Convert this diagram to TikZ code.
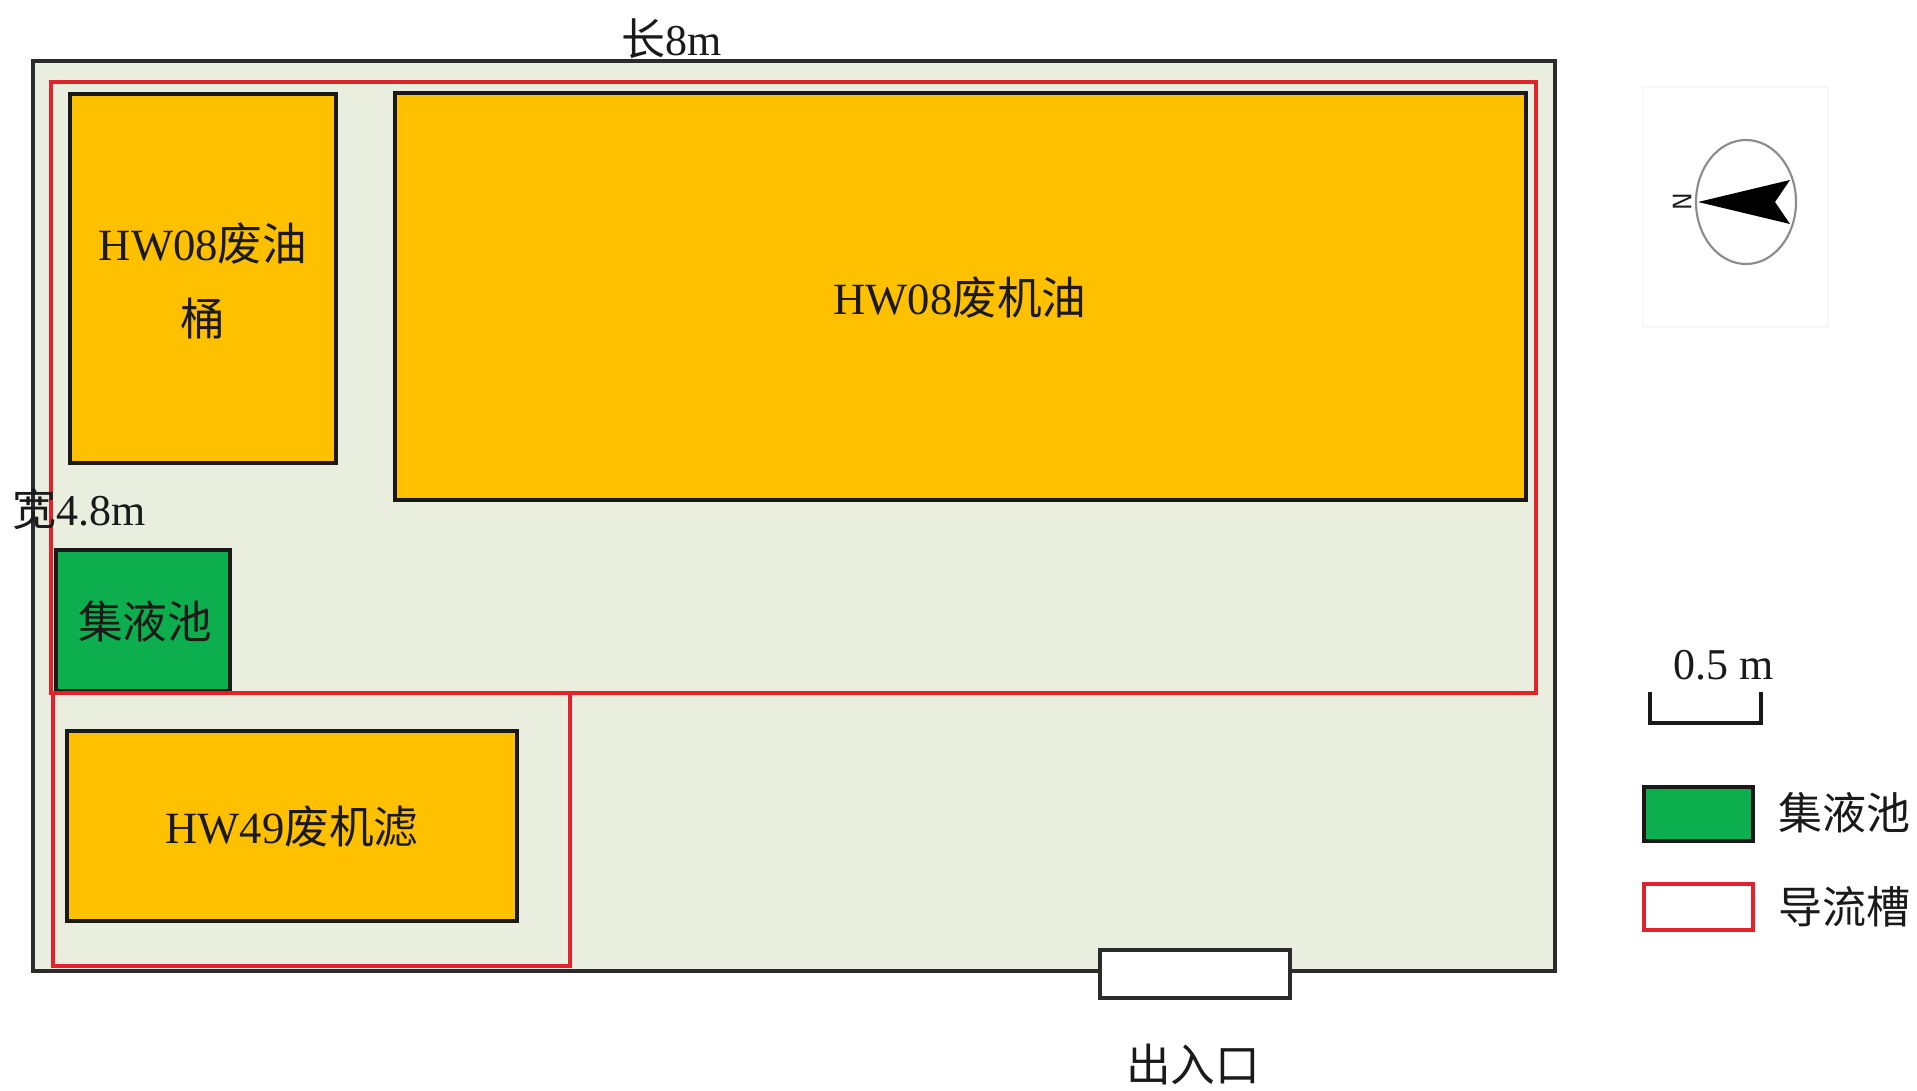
\documentclass[tikz,border=0pt]{standalone}
\usepackage{fontspec}
\setmainfont{Liberation Serif}
\newfontfamily\cjk{Noto Sans CJK SC}
\definecolor{bgfill}{HTML}{E9EEDE}
\definecolor{orangefill}{HTML}{FFC000}
\definecolor{greenfill}{HTML}{0CAE4E}
\definecolor{redline}{HTML}{E4222C}
\definecolor{darkline}{HTML}{2B2B2B}
\definecolor{txt}{HTML}{1A1A1A}
\tikzset{
  sitebox/.style={draw=darkline,line width=2.6pt,fill=bgfill},
  storebox/.style={draw=black!90,line width=2.4pt,fill=orangefill},
  poolbox/.style={draw=black!90,line width=2.6pt,fill=greenfill},
  drainbox/.style={draw=redline,line width=2.5pt},
  doorbox/.style={draw=darkline,line width=2.3pt,fill=white},
  lab/.style={font=\fontsize{33.5}{41}\selectfont,text=txt,inner sep=0pt,align=center},
  smalllab/.style={font=\fontsize{33}{36}\selectfont,text=txt,inner sep=0pt},
}
\begin{document}
\begin{tikzpicture}[x=0.75pt,y=-0.75pt]
\useasboundingbox (0,0) rectangle (1917,1091);
\fill[white] (0,0) rectangle (1917,1091);
% site
\draw[sitebox] (33,61) rectangle (1555,971);
\draw[drainbox] (51,82) rectangle (1536,693);
% storage
\draw[storebox] (70,94) rectangle (336,463);
\draw[storebox] (395,93) rectangle (1526,500);
\draw[storebox] (67,731) rectangle (517,921);
\draw[poolbox] (56,550) rectangle (230,691);
\draw[drainbox,line width=3.2pt] (53,693) rectangle (570,966);
\draw[doorbox] (1100,950) rectangle (1290,998);
% labels
\node[lab] (oilbucket) at (203,281) {HW08{\cjk 废油}\\[15pt]{\cjk 桶}};
\node[lab] (engineoil) at (960,298) {HW08{\cjk 废机油}};
\node[lab] (filter) at (292,827) {HW49{\cjk 废机滤}};
\node[lab] (pool) at (145,621) {\cjk 集液池};
\node[smalllab] (length) at (672,39) {{\cjk 长}8m};
\node[smalllab] (width) at (79,509) {{\cjk 宽}4.8m};
\node[lab] (entrance) at (1193,1064) {\cjk 出入口};
% compass
\draw[black!3,line width=0.8pt] (1643,87) rectangle (1828,327);
\draw[black!45,line width=1.6pt] (1746,202) ellipse [x radius=37.5pt,y radius=46.5pt];
\fill[black] (1698,202) -- (1790,180) -- (1775,202) -- (1790,224) -- cycle;
\node[font=\sffamily\fontsize{20}{20}\selectfont,text=txt,rotate=90,inner sep=0pt] (north) at (1682,202) {N};
% scale bar
\draw[black!90,line width=3.6pt,line join=miter] (1650,692) -- (1650,723) -- (1761,723) -- (1761,692);
\node[smalllab] (scale) at (1724,665) {0.5 m};
% legend
\draw[poolbox] (1644,787) rectangle (1753,841);
\node[lab,anchor=west,font=\fontsize{33}{36}\selectfont] (legpool) at (1778,813) {\cjk 集液池};
\draw[drainbox] (1644,884) rectangle (1753,930);
\node[lab,anchor=west,font=\fontsize{33}{36}\selectfont] (legdrain) at (1778,907) {\cjk 导流槽};
\end{tikzpicture}
\end{document}
